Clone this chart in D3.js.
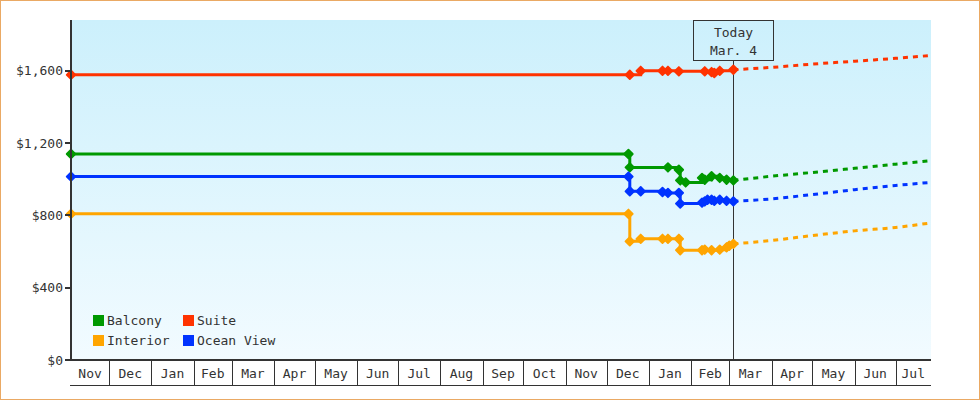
<!DOCTYPE html>
<html><head><meta charset="utf-8">
<script src="https://cdn.jsdelivr.net/npm/d3@7"></script>
<style>
html,body{margin:0;padding:0;background:#fff}
svg{display:block}
text{font-family:"DejaVu Sans Mono",monospace;font-size:13px;fill:#333}
</style></head><body>
<svg id="chart" width="980" height="400"></svg>
<script>
// ---------- data ----------
const seriesNames  = ["Balcony", "Suite", "Interior", "Ocean View"];
const seriesColors = ["#009900", "#ff3300", "#ffa500", "#0033ff"];

const balconyDates  = ["2012-11-03","2013-12-17","2013-12-18","2014-01-15","2014-01-23","2014-01-24","2014-01-28","2014-02-09","2014-02-11","2014-02-16","2014-02-22","2014-02-27","2014-03-04"];
const balconyValues = [1139, 1139, 1065, 1065, 1052, 993, 982, 1007, 997, 1016, 1007, 997, 993];

const suiteDates  = ["2012-11-03","2013-12-18","2013-12-26","2014-01-11","2014-01-15","2014-01-23","2014-02-11","2014-02-16","2014-02-18","2014-02-22","2014-03-04"];
const suiteValues = [1577, 1577, 1599, 1599, 1599, 1596, 1596, 1592, 1587, 1599, 1605];

const interiorDates  = ["2012-11-03","2013-12-17","2013-12-18","2013-12-26","2014-01-11","2014-01-15","2014-01-23","2014-01-24","2014-02-09","2014-02-11","2014-02-16","2014-02-22","2014-02-27","2014-03-01","2014-03-04"];
const interiorValues = [808, 808, 656, 670, 670, 670, 670, 607, 607, 610, 607, 610, 623, 632, 642];

const oceanDates  = ["2012-11-03","2013-12-17","2013-12-18","2013-12-26","2014-01-11","2014-01-15","2014-01-23","2014-01-24","2014-02-09","2014-02-11","2014-02-13","2014-02-16","2014-02-18","2014-02-22","2014-02-27","2014-03-04"];
const oceanValues = [1014, 1014, 933, 933, 929, 924, 924, 865, 870, 877, 886, 886, 880, 886, 880, 877];

const forecastDates    = ["2014-03-04","2014-04-01","2014-05-01","2014-06-01","2014-07-01","2014-07-27"];
const balconyForecast  = [993, 1016, 1037, 1060, 1083, 1102];
const suiteForecast    = [1605, 1618, 1636, 1652, 1668, 1684];
const interiorForecast = [642, 661, 688, 714, 733, 758];
const oceanForecast    = [877, 891, 915, 942, 965, 982];

const yTickValues = [0, 400, 800, 1200, 1600];
const xDomainDates = ["2012-11-03", "2014-07-27"];
const yMaxValue = 1880;
const todayDate = "2014-03-04";
const todayLabels = ["Today", "Mar. 4"];

// ---------- setup ----------
const parse = d3.utcParse("%Y-%m-%d");
const svg = d3.select("#chart");
const W = 980, H = 400;
const m = {left: 71, right: 49, top: 20, bottom: 40};
const x = d3.scaleUtc().domain(xDomainDates.map(parse)).range([m.left, W - m.right]);
const y = d3.scaleLinear().domain([0, yMaxValue]).range([H - m.bottom, m.top]);

const series = [
  {name: seriesNames[0], color: seriesColors[0], dates: balconyDates, values: balconyValues, fc: balconyForecast},
  {name: seriesNames[1], color: seriesColors[1], dates: suiteDates, values: suiteValues, fc: suiteForecast},
  {name: seriesNames[2], color: seriesColors[2], dates: interiorDates, values: interiorValues, fc: interiorForecast},
  {name: seriesNames[3], color: seriesColors[3], dates: oceanDates, values: oceanValues, fc: oceanForecast}
].map(s => ({
  ...s,
  pts: s.dates.map((d, i) => ({date: parse(d), value: s.values[i]})),
  fpts: forecastDates.map((d, i) => ({date: parse(d), value: s.fc[i]}))
}));

// outer border
svg.append("rect").attr("x", 0.5).attr("y", 0.5).attr("width", W - 1).attr("height", H - 1)
  .attr("fill", "#fff").attr("stroke", "#eaa964").attr("stroke-width", 1);

// plot background gradient
const defs = svg.append("defs");
const grad = defs.append("linearGradient").attr("id", "bg").attr("x1", 0).attr("y1", 0).attr("x2", 0).attr("y2", 1);
grad.append("stop").attr("offset", "0%").attr("stop-color", "#ccf0fc");
grad.append("stop").attr("offset", "100%").attr("stop-color", "#f2fbff");
svg.append("rect").attr("x", x.range()[0]).attr("y", y.range()[1])
  .attr("width", x.range()[1] - x.range()[0]).attr("height", y.range()[0] - y.range()[1])
  .attr("fill", "url(#bg)");

// today marker
const tx = Math.round(x(parse(todayDate))) + 0.5;
svg.append("line").attr("x1", tx).attr("x2", tx).attr("y1", 60.5).attr("y2", y(0))
  .attr("stroke", "#333").attr("stroke-width", 1).attr("shape-rendering", "crispEdges");
svg.append("rect").attr("x", tx - 40).attr("y", 20.5).attr("width", 80).attr("height", 40)
  .attr("fill", "none").attr("stroke", "#333").attr("stroke-width", 1).attr("shape-rendering", "crispEdges");
svg.append("text").attr("x", tx).attr("y", 37).attr("text-anchor", "middle").text(todayLabels[0]);
svg.append("text").attr("x", tx).attr("y", 55).attr("text-anchor", "middle").text(todayLabels[1]);

// series
const stepLine = d3.line().x(d => x(d.date)).y(d => y(d.value)).curve(d3.curveStepAfter);
const fcLine = d3.line().x(d => x(d.date)).y(d => y(d.value)).curve(d3.curveMonotoneX);
const diamond = "M0,-4.3L4.3,0L0,4.3L-4.3,0Z";

series.forEach(s => {
  const g = svg.append("g");
  g.append("path").attr("d", fcLine(s.fpts)).attr("fill", "none").attr("stroke", s.color)
    .attr("stroke-width", 3).attr("stroke-dasharray", "5,5");
  g.append("path").attr("d", stepLine(s.pts)).attr("fill", "none").attr("stroke", s.color)
    .attr("stroke-width", 3);
  g.selectAll("path.mk").data(s.pts).join("path").attr("class", "mk")
    .attr("transform", d => `translate(${x(d.date)},${y(d.value)})`)
    .attr("d", diamond).attr("fill", s.color).attr("stroke", s.color)
    .attr("stroke-width", 1.8).attr("stroke-linejoin", "round");
});

// y axis
const yAxis = svg.append("g");
yAxis.append("line").attr("x1", m.left).attr("x2", m.left).attr("y1", y.range()[1]).attr("y2", y(0) + 1)
  .attr("stroke", "#333").attr("stroke-width", 2).attr("shape-rendering", "crispEdges");
const fmt = d3.format("$,");
yTickValues.forEach(v => {
  yAxis.append("line").attr("x1", m.left - 6).attr("x2", m.left).attr("y1", y(v)).attr("y2", y(v))
    .attr("stroke", "#333").attr("stroke-width", 2).attr("shape-rendering", "crispEdges");
  yAxis.append("text").attr("x", m.left - 8).attr("y", y(v)).attr("dy", "0.35em")
    .attr("text-anchor", "end").text(fmt(v));
});

// x axis: month cells
const xAxis = svg.append("g");
const x0 = x.range()[0], x1 = x.range()[1], yb = y(0);
xAxis.append("line").attr("x1", x0 - 1).attr("x2", x1).attr("y1", yb).attr("y2", yb)
  .attr("stroke", "#333").attr("stroke-width", 2).attr("shape-rendering", "crispEdges");
xAxis.append("line").attr("x1", x0 - 1).attr("x2", x1).attr("y1", yb + 25.5).attr("y2", yb + 25.5)
  .attr("stroke", "#333").attr("stroke-width", 1).attr("shape-rendering", "crispEdges");
const [d0, d1] = x.domain();
const monthStarts = d3.utcMonth.range(d3.utcMonth.ceil(d0), d1);
monthStarts.forEach(d => {
  const px = Math.round(x(d)) + 0.5;
  xAxis.append("line").attr("x1", px).attr("x2", px).attr("y1", yb).attr("y2", yb + 25)
    .attr("stroke", "#333").attr("stroke-width", 1).attr("shape-rendering", "crispEdges");
});
const cellStarts = [d0, ...monthStarts];
const monthFmt = d3.utcFormat("%b");
cellStarts.forEach((d, i) => {
  const e = i + 1 < cellStarts.length ? cellStarts[i + 1] : d1;
  const cx = (x(d) + x(e)) / 2;
  xAxis.append("text").attr("x", cx).attr("y", yb + 18).attr("text-anchor", "middle")
    .attr("fill", "#222").text(monthFmt(d));
});

// legend
const legendOrder = [0, 1, 2, 3];
const leg = svg.append("g");
legendOrder.forEach((si, i) => {
  const col = i % 2, row = Math.floor(i / 2);
  const lx = 93 + col * 90, ly = 315 + row * 20;
  leg.append("rect").attr("x", lx).attr("y", ly).attr("width", 11).attr("height", 11)
    .attr("fill", series[si].color).attr("shape-rendering", "crispEdges");
  leg.append("text").attr("x", lx + 14).attr("y", ly + 10).text(series[si].name);
});
</script>
</body></html>
